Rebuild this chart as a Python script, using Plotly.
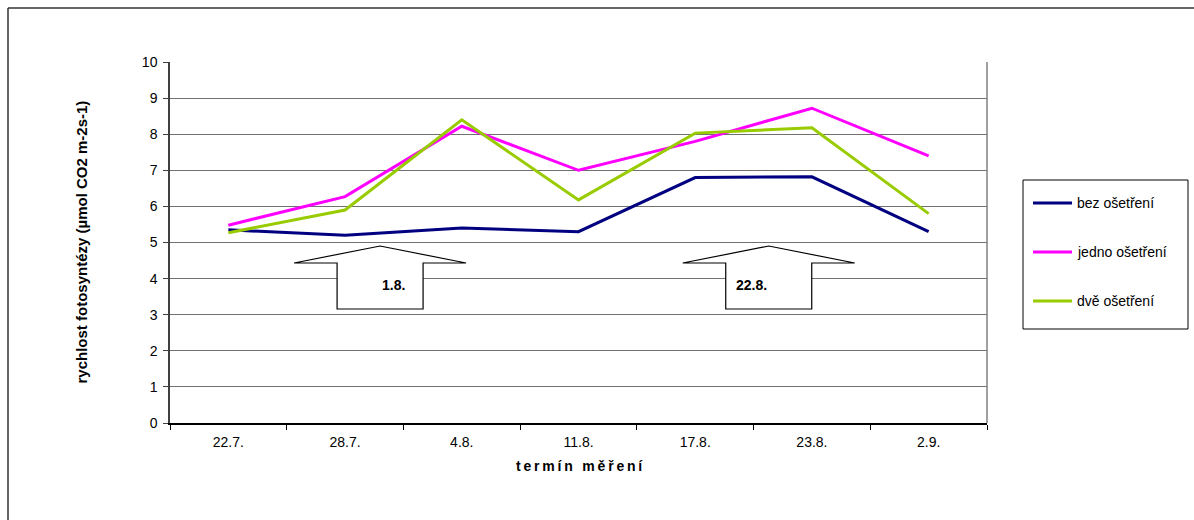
import plotly.graph_objects as go

# Measurement dates and photosynthesis rates for the three treatments
terminy = ["22.7.", "28.7.", "4.8.", "11.8.", "17.8.", "23.8.", "2.9."]
bez_osetreni = [5.35, 5.2, 5.4, 5.3, 6.8, 6.82, 5.3]
jedno_osetreni = [5.48, 6.27, 8.22, 7.0, 7.8, 8.72, 7.4]
dve_osetreni = [5.27, 5.9, 8.4, 6.18, 8.03, 8.18, 5.8]

# Treatment dates marked with arrows: (label, x position between categories)
zasahy = [("1.8.", 1.3), ("22.8.", 4.63)]

W, H = 1194, 520
L, R, T, B = 170, 207, 62, 97
PW, PH = W - L - R, H - T - B
FONT = "Liberation Sans, Arial"


def px(x):
    return (x - L) / PW


def py(y):
    return (H - B - y) / PH


fig = go.Figure()
series = [
    ("bez ošetření", bez_osetreni, "#000080"),
    ("jedno ošetření", jedno_osetreni, "#FF00FF"),
    ("dvě ošetření", dve_osetreni, "#99CC00"),
]
for name, vals, col in series:
    fig.add_trace(go.Scatter(
        x=terminy, y=vals, name=name, mode="lines",
        line=dict(color=col, width=3), showlegend=False,
    ))

shapes = []
annotations = []

# Block arrows pointing up, anchored to category positions on the x axis
slot = PW / len(terminy)
for label, pos in zasahy:
    cx = L + slot * (pos + 0.5)
    tip, wing, bottom = 246, 263, 309
    hw, sw = 86, 43
    path = (f"M {px(cx - hw)} {py(wing)} L {px(cx)} {py(tip)} L {px(cx + hw)} {py(wing)} "
            f"L {px(cx + sw)} {py(wing)} L {px(cx + sw)} {py(bottom)} "
            f"L {px(cx - sw)} {py(bottom)} L {px(cx - sw)} {py(wing)} Z")
    shapes.append(dict(type="path", path=path, xref="paper", yref="paper",
                       fillcolor="white", line=dict(color="black", width=1.2),
                       layer="above"))
    annotations.append(dict(text=f"<b>{label}</b>", x=px(cx), y=py(285),
                            xref="paper", yref="paper", showarrow=False,
                            font=dict(family=FONT, size=14, color="black")))

# Right edge of the plot area
shapes.append(dict(type="line", xref="paper", yref="paper", x0=1, x1=1, y0=0, y1=1,
                   line=dict(color="#808080", width=1.5)))
# Outer chart frame (top and left edges)
shapes.append(dict(type="line", xref="paper", yref="paper", x0=px(8), x1=px(W + 5),
                   y0=py(8), y1=py(8), line=dict(color="#333333", width=1.5)))
shapes.append(dict(type="line", xref="paper", yref="paper", x0=px(8), x1=px(8),
                   y0=py(8), y1=py(H + 5), line=dict(color="#333333", width=1.5)))

# Legend box with line samples
shapes.append(dict(type="rect", xref="paper", yref="paper",
                   x0=px(1023), x1=px(1188), y0=py(180), y1=py(329),
                   fillcolor="white", line=dict(color="black", width=1)))
for i, (name, vals, col) in enumerate(series):
    ly = 203 + i * 49
    shapes.append(dict(type="line", xref="paper", yref="paper",
                       x0=px(1033), x1=px(1072), y0=py(ly), y1=py(ly),
                       line=dict(color=col, width=3)))
    annotations.append(dict(text=name, x=px(1075), y=py(ly), xref="paper", yref="paper",
                            xanchor="left", showarrow=False,
                            font=dict(family=FONT, size=14, color="black")))

# Axis titles (x title is letter-spaced with thin spaces)
x_title = "\u2009".join("termín měření")
annotations.append(dict(text="<b>rychlost fotosyntézy (µmol CO2 m-2s-1)</b>",
                        x=px(70), y=py(242), xref="paper", yref="paper",
                        showarrow=False, textangle=-90,
                        font=dict(family=FONT, size=15, color="black")))
annotations.append(dict(text=f"<b>{x_title}</b>", x=px(579), y=py(476),
                        xref="paper", yref="paper", showarrow=False,
                        font=dict(family=FONT, size=14, color="black")))

fig.update_layout(
    width=W, height=H,
    margin=dict(l=L, r=R, t=T, b=B, autoexpand=False),
    paper_bgcolor="white", plot_bgcolor="white",
    font=dict(family=FONT, size=14, color="black"),
    shapes=shapes, annotations=annotations,
    showlegend=False,
    xaxis=dict(type="category", showgrid=False, showline=True, linecolor="black",
               linewidth=1.5, ticks="outside", tickson="boundaries", ticklen=5,
               tickcolor="black", range=[-0.5, 6.5], zeroline=False,
               ticklabelstandoff=5),
    yaxis=dict(range=[0, 10], dtick=1, showgrid=True, gridcolor="#707070",
               gridwidth=1, showline=True, linecolor="#404040", linewidth=1.5,
               ticks="outside", ticklen=5, tickcolor="#404040", zeroline=False,
               ticklabelstandoff=3),
)

fig.write_html("out.html")
